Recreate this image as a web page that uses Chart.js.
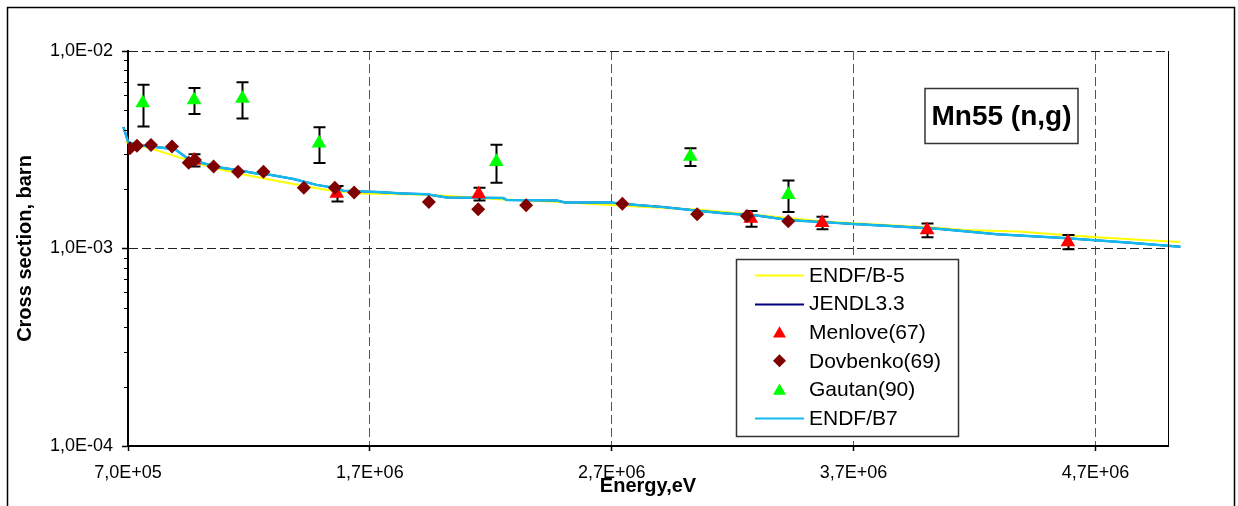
<!DOCTYPE html>
<html>
<head>
<meta charset="utf-8">
<title>Mn55 (n,g)</title>
<script src="https://cdn.jsdelivr.net/npm/chart.js@4/dist/chart.umd.min.js"></script>
<style>
  html, body { margin: 0; padding: 0; background: #fff; }
  #wrap { width: 1238px; height: 506px; }
</style>
</head>
<body>
<div id="wrap"><canvas id="xsChart" width="1238" height="506"></canvas></div>
<script>
// evaluated curves (energy in eV, cross section in barn)
var b5Energy = [6.64e5, 6.88e5, 7.91e5, 9.01e5, 9.84e5, 1.08e6, 1.177e6, 1.274e6, 1.384e6, 1.522e6,
  1.66e6, 1.797e6, 1.935e6, 2.073e6, 2.251e6, 2.445e6, 2.693e6, 2.804e6, 3.066e6, 3.30e6,
  3.576e6, 4.058e6, 4.155e6, 4.382e6, 4.568e6, 4.706e6, 4.913e6, 5.051e6];
var b5Xs = [3.57e-3, 3.47e-3, 3.22e-3, 2.92e-3, 2.70e-3, 2.52e-3, 2.37e-3, 2.25e-3, 2.12e-3, 1.98e-3,
  1.90e-3, 1.89e-3, 1.87e-3, 1.83e-3, 1.77e-3, 1.73e-3, 1.66e-3, 1.63e-3, 1.57e-3, 1.48e-3,
  1.37e-3, 1.27e-3, 1.24e-3, 1.22e-3, 1.17e-3, 1.14e-3, 1.10e-3, 1.08e-3];

var jendlEnergy = [6.64e5, 6.81e5, 7.01e5, 7.36e5, 8.32e5, 8.94e5, 9.43e5, 1.011e6, 1.08e6, 1.15e6,
  1.232e6, 1.287e6, 1.384e6, 1.48e6, 1.563e6, 1.59e6, 1.729e6, 1.839e6, 1.935e6, 2.018e6,
  2.252e6, 2.266e6, 2.473e6, 2.507e6, 2.693e6, 2.804e6, 2.914e6, 3.066e6, 3.162e6, 3.30e6,
  3.438e6, 3.576e6, 3.70e6, 3.851e6, 4.058e6, 4.293e6, 4.568e6, 4.844e6, 5.051e6];
var jendlXs = [4.14e-3, 4.12e-3, 3.45e-3, 3.34e-3, 3.25e-3, 3.18e-3, 2.88e-3, 2.70e-3, 2.57e-3, 2.50e-3,
  2.40e-3, 2.36e-3, 2.25e-3, 2.10e-3, 2.02e-3, 1.96e-3, 1.93e-3, 1.90e-3, 1.88e-3, 1.81e-3,
  1.80e-3, 1.76e-3, 1.75e-3, 1.71e-3, 1.71e-3, 1.66e-3, 1.62e-3, 1.55e-3, 1.51e-3, 1.47e-3,
  1.39e-3, 1.36e-3, 1.33e-3, 1.30e-3, 1.256e-3, 1.18e-3, 1.13e-3, 1.07e-3, 1.02e-3];

var b7Energy = [6.64e5, 6.81e5, 7.01e5, 7.36e5, 8.32e5, 8.94e5, 9.43e5, 1.011e6, 1.08e6, 1.15e6,
  1.232e6, 1.287e6, 1.384e6, 1.48e6, 1.563e6, 1.59e6, 1.729e6, 1.839e6, 1.935e6, 2.018e6,
  2.252e6, 2.266e6, 2.473e6, 2.507e6, 2.693e6, 2.804e6, 2.914e6, 3.066e6, 3.162e6, 3.30e6,
  3.438e6, 3.576e6, 3.70e6, 3.851e6, 4.058e6, 4.293e6, 4.568e6, 4.844e6, 5.051e6];
var b7Xs = [4.14e-3, 4.12e-3, 3.45e-3, 3.34e-3, 3.25e-3, 3.18e-3, 2.88e-3, 2.70e-3, 2.57e-3, 2.50e-3,
  2.40e-3, 2.36e-3, 2.25e-3, 2.10e-3, 2.02e-3, 1.96e-3, 1.93e-3, 1.90e-3, 1.88e-3, 1.81e-3,
  1.80e-3, 1.76e-3, 1.75e-3, 1.71e-3, 1.71e-3, 1.66e-3, 1.62e-3, 1.55e-3, 1.51e-3, 1.47e-3,
  1.39e-3, 1.36e-3, 1.33e-3, 1.30e-3, 1.256e-3, 1.18e-3, 1.13e-3, 1.07e-3, 1.02e-3];

// measurements
var menloveEnergy = [9.73e5, 1.563e6, 2.15e6, 3.275e6, 3.57e6, 4.004e6, 4.586e6];
var menloveXs = [2.80e-3, 1.90e-3, 1.89e-3, 1.42e-3, 1.35e-3, 1.24e-3, 1.08e-3];
var menloveErr = [0.20e-3, 0.17e-3, 0.14e-3, 0.13e-3, 0.10e-3, 0.10e-3, 0.09e-3];

var dovbenkoEnergy = [7.08e5, 7.37e5, 7.95e5, 8.82e5, 9.51e5, 9.77e5, 1.054e6, 1.155e6, 1.26e6, 1.427e6,
  1.555e6, 1.635e6, 1.944e6, 2.148e6, 2.346e6, 2.744e6, 3.053e6, 3.259e6, 3.43e6];
var dovbenkoXs = [3.22e-3, 3.31e-3, 3.34e-3, 3.28e-3, 2.72e-3, 2.81e-3, 2.60e-3, 2.45e-3, 2.45e-3, 2.03e-3,
  2.03e-3, 1.92e-3, 1.72e-3, 1.58e-3, 1.655e-3, 1.686e-3, 1.49e-3, 1.46e-3, 1.374e-3];

var gautanEnergy = [7.61e5, 9.73e5, 1.173e6, 1.49e6, 2.223e6, 3.025e6, 3.43e6];
var gautanXs = [5.45e-3, 5.65e-3, 5.75e-3, 3.41e-3, 2.75e-3, 2.92e-3, 1.87e-3];
var gautanErr = [1.30e-3, 0.85e-3, 1.20e-3, 0.70e-3, 0.60e-3, 0.30e-3, 0.34e-3];

var xTickValues = [7e5, 1.7e6, 2.7e6, 3.7e6, 4.7e6];
var yTickValues = [1e-4, 1e-3, 1e-2];

var FONT = "'Liberation Sans', Arial, sans-serif";
Chart.defaults.font.family = FONT;
Chart.defaults.color = '#000';

function toPoints(xs, ys) {
  var pts = [];
  for (var i = 0; i < xs.length; i++) {
    pts.push({ x: xs[i], y: ys[i] });
  }
  return pts;
}

// 7.0e+5 -> "7,0E+05"
function fmtE(v) {
  var s = Number(v).toExponential(1);
  var parts = s.split('e');
  var exp = parseInt(parts[1], 10);
  var sign = exp < 0 ? '-' : '+';
  var a = Math.abs(exp);
  return parts[0].replace('.', ',') + 'E' + sign + (a < 10 ? '0' + a : a);
}

// black error bars with caps, drawn just before the markers of their series
var errorBars = {
  id: 'errorBars',
  beforeDatasetDraw: function (chart, args) {
    var ds = chart.data.datasets[args.index];
    if (!ds.errors) return;
    var xs = chart.scales.x, ys = chart.scales.y, ctx = chart.ctx;
    ctx.save();
    ctx.strokeStyle = '#000';
    ctx.lineWidth = 2;
    for (var i = 0; i < ds.data.length; i++) {
      var p = ds.data[i], e = ds.errors[i];
      var px = Math.round(xs.getPixelForValue(p.x)) + 0.5;
      var top = ys.getPixelForValue(p.y + e);
      var bot = ys.getPixelForValue(p.y - e);
      ctx.beginPath();
      ctx.moveTo(px, top); ctx.lineTo(px, bot);
      ctx.moveTo(px - 6, top); ctx.lineTo(px + 6, top);
      ctx.moveTo(px - 6, bot); ctx.lineTo(px + 6, bot);
      ctx.stroke();
    }
    ctx.restore();
  }
};

// background, frame, minor log ticks, title box and legend
var chartFrame = {
  id: 'chartFrame',
  beforeDraw: function (chart) {
    var ctx = chart.ctx;
    ctx.save();
    ctx.fillStyle = '#fff';
    ctx.fillRect(0, 0, chart.width, chart.height);
    ctx.restore();
  },
  afterDraw: function (chart) {
    var ctx = chart.ctx, area = chart.chartArea, ys = chart.scales.y;
    ctx.save();

    // outer frame
    ctx.strokeStyle = '#000';
    ctx.lineWidth = 1.5;
    ctx.strokeRect(7.5, 7.5, 1227, 540);

    // right edge of plot area
    ctx.lineWidth = 1;
    ctx.beginPath();
    ctx.moveTo(area.right + 0.5, area.top);
    ctx.lineTo(area.right + 0.5, area.bottom);
    ctx.stroke();

    // minor ticks on the log axis
    ctx.lineWidth = 1;
    ctx.beginPath();
    for (var d = -4; d < -2; d++) {
      for (var k = 2; k <= 9; k++) {
        var py = Math.round(ys.getPixelForValue(k * Math.pow(10, d))) + 0.5;
        ctx.moveTo(area.left - 4, py);
        ctx.lineTo(area.left, py);
      }
    }
    ctx.stroke();

    // reaction label
    ctx.strokeStyle = '#333';
    ctx.lineWidth = 1.5;
    ctx.strokeRect(925, 88.5, 153, 55);
    ctx.fillStyle = '#000';
    ctx.font = 'bold 28px ' + FONT;
    ctx.textAlign = 'center';
    ctx.textBaseline = 'middle';
    ctx.fillText('Mn55 (n,g)', 1001.5, 117);

    // legend
    ctx.fillStyle = '#fff';
    ctx.fillRect(736, 259, 222, 177);
    ctx.strokeStyle = '#333';
    ctx.lineWidth = 1.5;
    ctx.strokeRect(736.5, 259.5, 222, 177);
    ctx.font = '21px ' + FONT;
    ctx.textAlign = 'left';
    var dsList = chart.data.datasets;
    for (var i = 0; i < dsList.length; i++) {
      var ds = dsList[i];
      var ry = 275 + i * 28.6;
      if (ds.showLine) {
        ctx.strokeStyle = ds.borderColor;
        ctx.lineWidth = 2;
        ctx.beginPath();
        ctx.moveTo(755, Math.round(ry) + 0.5);
        ctx.lineTo(804, Math.round(ry) + 0.5);
        ctx.stroke();
      } else {
        ctx.fillStyle = ds.backgroundColor;
        Chart.helpers.drawPoint(ctx, {
          pointStyle: ds.pointStyle, rotation: 0, radius: ds.pointStyle === 'triangle' ? 7.5 : 6.5, borderWidth: 0
        }, 779.5, ry + (ds.pointStyle === 'triangle' ? 1.5 : 0));
      }
      ctx.fillStyle = '#000';
      ctx.fillText(ds.label, 809, ry + 1);
    }
    ctx.restore();
  }
};

var lineBase = { showLine: true, pointRadius: 0, pointHoverRadius: 0, borderWidth: 2, clip: false, fill: false };

var ctx = document.getElementById('xsChart').getContext('2d');
new Chart(ctx, {
  type: 'scatter',
  data: {
    datasets: [
      Object.assign({}, lineBase, {
        label: 'ENDF/B-5', data: toPoints(b5Energy, b5Xs),
        borderColor: '#FFFF00', backgroundColor: '#FFFF00', order: 5
      }),
      Object.assign({}, lineBase, {
        label: 'JENDL3.3', data: toPoints(jendlEnergy, jendlXs),
        borderColor: '#000080', backgroundColor: '#000080', order: 4
      }),
      {
        label: 'Menlove(67)', data: toPoints(menloveEnergy, menloveXs), errors: menloveErr,
        pointStyle: 'triangle', pointRadius: 8.5, pointHoverRadius: 8.5, pointBorderWidth: 0,
        backgroundColor: '#FF0000', borderColor: '#FF0000', order: 2
      },
      {
        label: 'Dovbenko(69)', data: toPoints(dovbenkoEnergy, dovbenkoXs),
        pointStyle: 'rectRot', pointRadius: 7, pointHoverRadius: 7, pointBorderWidth: 0,
        backgroundColor: '#800000', borderColor: '#800000', order: 1
      },
      {
        label: 'Gautan(90)', data: toPoints(gautanEnergy, gautanXs), errors: gautanErr,
        pointStyle: 'triangle', pointRadius: 8.5, pointHoverRadius: 8.5, pointBorderWidth: 0,
        backgroundColor: '#00FF00', borderColor: '#00FF00', order: 0
      },
      Object.assign({}, lineBase, {
        label: 'ENDF/B7', data: toPoints(b7Energy, b7Xs),
        borderColor: '#14B9F0', backgroundColor: '#14B9F0', borderWidth: 2.5, order: 3
      })
    ]
  },
  options: {
    responsive: false,
    animation: false,
    events: [],
    layout: { padding: { left: 0, top: 51, right: 70, bottom: 0 } },
    plugins: {
      legend: { display: false },
      tooltip: { enabled: false }
    },
    scales: {
      x: {
        type: 'linear',
        min: 7e5,
        max: 5.0e6,
        afterBuildTicks: function (scale) {
          scale.ticks = xTickValues.map(function (v) { return { value: v }; });
        },
        afterFit: function (scale) { scale.height = 60; },
        ticks: {
          autoSkip: false, maxRotation: 0, padding: 11,
          font: { size: 18 }, color: '#000',
          callback: function (value) { return fmtE(value); }
        },
        grid: { color: '#555', lineWidth: 1, tickLength: 5, tickColor: '#000', tickWidth: 1.5 },
        border: { display: true, color: '#000', width: 2, dash: [9, 4] },
        title: {
          display: true, text: 'Energy,eV', color: '#000',
          font: { size: 20, weight: 'bold' }, padding: { top: 0, bottom: 8 }
        }
      },
      y: {
        type: 'logarithmic',
        min: 1e-4,
        max: 1e-2,
        afterBuildTicks: function (scale) {
          scale.ticks = yTickValues.map(function (v) { return { value: v, major: true }; });
        },
        afterFit: function (scale) { scale.width = 128; },
        ticks: {
          autoSkip: false, padding: 9,
          font: { size: 18 }, color: '#000',
          callback: function (value) { return fmtE(value); }
        },
        grid: { color: '#222', lineWidth: 1, tickLength: 6, tickColor: '#000', tickWidth: 1.5 },
        border: { display: true, color: '#000', width: 2, dash: [9, 4] },
        title: {
          display: true, text: 'Cross section, barn', color: '#000',
          font: { size: 20, weight: 'bold' }, padding: { top: 13, bottom: 0 }
        }
      }
    }
  },
  plugins: [errorBars, chartFrame]
});
</script>
</body>
</html>
